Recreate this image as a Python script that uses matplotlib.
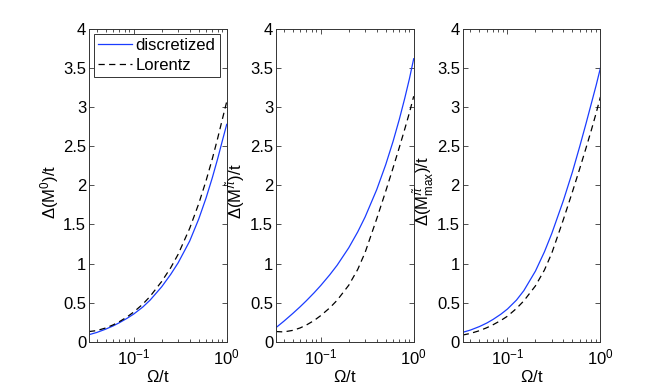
import matplotlib
matplotlib.use("Agg")
import matplotlib.pyplot as plt
from matplotlib.ticker import LogLocator, FixedLocator, NullFormatter

plt.rcParams['font.family'] = ['Liberation Sans', 'DejaVu Sans']
plt.rcParams['mathtext.fontset'] = 'custom'
plt.rcParams['mathtext.rm'] = 'Liberation Sans'
plt.rcParams['mathtext.it'] = 'Liberation Sans:italic'
plt.rcParams['mathtext.bf'] = 'Liberation Sans:bold'

# Omega/t sample points
omega = [0.033, 0.04, 0.05, 0.06, 0.07, 0.085, 0.1, 0.125, 0.15, 0.2,
         0.25, 0.3, 0.4, 0.5, 0.6, 0.7, 0.8, 0.9, 1.0]

# Panel 1: Delta(M^0)/t
m0_discretized = [0.09, 0.118, 0.161, 0.202, 0.243, 0.300, 0.354, 0.443, 0.532, 0.703,
                  0.862, 1.008, 1.288, 1.569, 1.839, 2.097, 2.342, 2.575, 2.78]
m0_lorentz = [0.13, 0.142, 0.176, 0.215, 0.256, 0.318, 0.380, 0.480, 0.580, 0.771,
              0.947, 1.117, 1.451, 1.765, 2.060, 2.339, 2.603, 2.851, 3.07]

# Panel 2: Delta(M^pi)/t
mpi_discretized = [0.18, 0.261, 0.361, 0.447, 0.524, 0.627, 0.719, 0.856, 0.978, 1.201,
                   1.405, 1.595, 1.945, 2.265, 2.563, 2.844, 3.111, 3.365, 3.62]
mpi_lorentz = [0.13, 0.125, 0.145, 0.176, 0.213, 0.272, 0.334, 0.433, 0.530, 0.722,
               0.925, 1.141, 1.572, 1.925, 2.224, 2.485, 2.717, 2.930, 3.14]

# Panel 3: Delta(M^pi_max)/t
mmax_discretized = [0.12, 0.149, 0.194, 0.239, 0.285, 0.352, 0.418, 0.532, 0.653, 0.903,
                    1.150, 1.385, 1.807, 2.171, 2.50, 2.79, 3.05, 3.28, 3.50]
mmax_lorentz = [0.085, 0.106, 0.141, 0.179, 0.217, 0.272, 0.326, 0.425, 0.522, 0.714,
                0.917, 1.133, 1.564, 1.917, 2.216, 2.477, 2.709, 2.925, 3.13]

ylabels = [r'$\Delta$(M$^{0}$)/t',
           r'$\Delta$(M$^{\tilde{\pi}}$)/t',
           r'$\Delta$(M$^{\tilde{\pi}}_{\mathrm{max}}$)/t']
series = [(m0_discretized, m0_lorentz),
          (mpi_discretized, mpi_lorentz),
          (mmax_discretized, mmax_lorentz)]
yticks = [0, 0.5, 1, 1.5, 2, 2.5, 3, 3.5, 4]
ytick_labels = ['0', '0.5', '1', '1.5', '2', '2.5', '3', '3.5', '4']
legend_labels = ['discretized', 'Lorentz']

fig = plt.figure(figsize=(6.64, 3.84), dpi=100)
W, H = 664.0, 384.0
lefts = [89, 276, 462.7]
ax_w = 137.7
ax_top, ax_bot = 29.0, 341.7

for i, (left, (disc, lor), yl) in enumerate(zip(lefts, series, ylabels)):
    ax = fig.add_axes([left / W, (H - ax_bot) / H, ax_w / W, (ax_bot - ax_top) / H])
    ax.semilogx(omega, disc, color='#1a3cff', lw=0.9, label=legend_labels[0])
    ax.semilogx(omega, lor, color='black', lw=0.9, ls=(0, (5, 3.5)),
                label=legend_labels[1])
    ax.set_xlim(0.033, 1.0)
    ax.set_ylim(0, 4)
    ax.yaxis.set_major_locator(FixedLocator(yticks))
    ax.set_yticklabels(ytick_labels)
    ax.xaxis.set_major_locator(LogLocator(base=10, numticks=10))
    ax.xaxis.set_minor_locator(LogLocator(base=10, subs=range(2, 10), numticks=10))
    ax.xaxis.set_minor_formatter(NullFormatter())
    ax.tick_params(which='both', direction='in', top=True, right=True,
                   labelsize=12, color='#333333', width=0.6)
    ax.tick_params(which='major', length=3.5)
    ax.tick_params(which='minor', length=2)
    ax.tick_params(axis='y', pad=2)
    ax.tick_params(axis='x', pad=4)
    for sp in ax.spines.values():
        sp.set_color('#333333')
        sp.set_linewidth(0.7)
    ax.set_xlabel(r'$\Omega$/t', fontsize=12, va='center')
    ax.xaxis.set_label_coords(0.5, -0.113)
    ax.set_ylabel(yl, fontsize=12, va='center')
    ax.yaxis.set_label_coords(-0.285, 0.48)
    if i == 0:
        leg = ax.legend(loc='upper left', fontsize=12, frameon=True, fancybox=False,
                        edgecolor='#333333', framealpha=1, borderpad=0.25,
                        handlelength=2.0, handletextpad=0.25, labelspacing=0.3,
                        borderaxespad=0.3)
        leg.get_frame().set_linewidth(0.7)

fig.savefig('out.png', dpi=100)
